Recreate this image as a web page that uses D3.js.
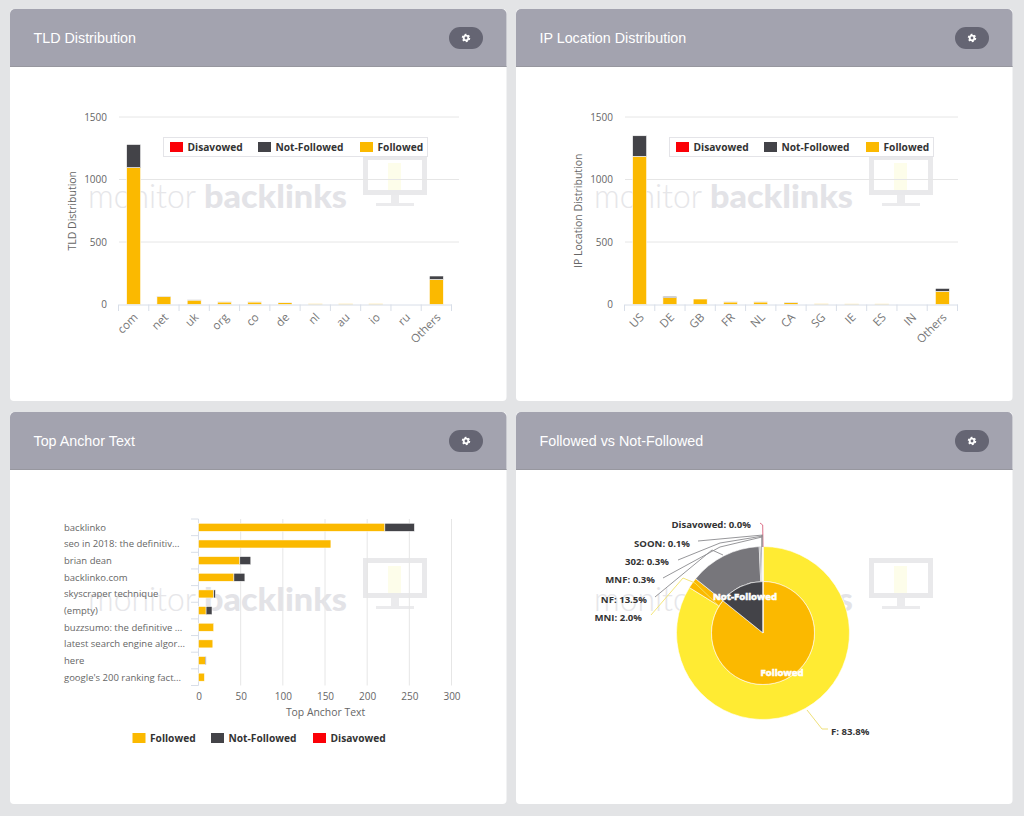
<!DOCTYPE html>
<html>
<head>
<meta charset="utf-8">
<script src="https://cdnjs.cloudflare.com/ajax/libs/d3/7.8.5/d3.min.js"></script>
<style>
  html, body { margin: 0; padding: 0; background: #e3e4e6; overflow: hidden; }
  svg { display: block; }
  text { font-family: "Open Sans", sans-serif; }
</style>
</head>
<body>
<svg id="chart" width="1024" height="816"></svg>
<script>
// panel titles
var panelTitles = ['TLD Distribution', 'IP Location Distribution', 'Top Anchor Text', 'Followed vs Not-Followed']

// TLD chart
var tldCategories = ['com', 'net', 'uk', 'org', 'co', 'de', 'nl', 'au', 'io', 'ru', 'Others']
var tldFollowed = [1095, 65, 35, 20, 20, 15, 6, 6, 6, 0, 200]
var tldNotFollowed = [185, 2, 2, 1, 1, 1, 0, 0, 0, 0, 28]
var tldDisavowed = [0, 0, 0, 0, 0, 0, 0, 0, 0, 0, 0]

// IP chart
var ipCategories = ['US', 'DE', 'GB', 'FR', 'NL', 'CA', 'SG', 'IE', 'ES', 'IN', 'Others']
var ipFollowed = [1185, 55, 45, 20, 20, 15, 6, 5, 5, 0, 105]
var ipNotFollowed = [165, 10, 2, 1, 1, 2, 0, 0, 0, 0, 24]
var ipDisavowed = [0, 0, 0, 0, 0, 0, 0, 0, 0, 0, 0]

var columnTicks = [0, 500, 1000, 1500]

// anchor text chart
var anchorCategories = ['backlinko', 'seo in 2018: the definitiv...', 'brian dean', 'backlinko.com', 'skyscraper technique', '(empty)', 'buzzsumo: the definitive ...', 'latest search engine algor...', 'here', "google's 200 ranking fact..."]
var anchorFollowed = [221, 157, 49, 42, 18, 9, 18, 17, 8, 7]
var anchorNotFollowed = [35, 0, 13, 13, 2, 7, 0, 0, 1, 0]
var anchorDisavowed = [0, 0, 0, 0, 0, 0, 0, 0, 0, 0]
var anchorTicks = [0, 50, 100, 150, 200, 250, 300]

// pie
var innerNames = ['Followed', 'Not-Followed', 'Disavowed']
var innerValues = [85.8, 14.2, 0]
var outerNames = ['F', 'MNI', 'NF', 'MNF', '302', 'SOON', 'Disavowed']
var outerValues = [83.8, 2.0, 13.5, 0.3, 0.3, 0.1, 0.0]

var colors = { 'Followed': '#fbb900', 'Not-Followed': '#434348', 'Disavowed': '#fb0007' }
var outerColors = ['#ffeb33', '#fbb900', '#77767b', '#88888c', '#9a9a9e', '#b5bcc4', '#e8c4c8']
var leaderColors = ['#ecdc6a', '#f3e36a', '#8b8b8f', '#8b8b8f', '#8b8b8f', '#8b8b8f', '#d9607a']

var svg = d3.select('#chart')

// card with header, gear button and the faded logo
function drawPanel(x, y, title) {
  var g = svg.append('g').attr('transform', 'translate(' + x + ',' + y + ')')
  var w = 496.5, h = 392, headerH = 58

  g.append('rect').attr('width', w).attr('height', h).attr('rx', 4).attr('fill', '#ffffff')
  g.append('path')
    .attr('d', 'M0,' + headerH + 'V5a5,5 0 0 1 5,-5H' + (w - 5) + 'a5,5 0 0 1 5,5V' + headerH + 'Z')
    .attr('fill', '#a3a3af')
  g.append('rect').attr('y', headerH - 1).attr('width', w).attr('height', 1).attr('fill', '#97979f')
  g.append('text').attr('x', 23.5).attr('y', 34).attr('fill', '#ffffff')
    .style('font-family', '"Liberation Sans", sans-serif').style('font-size', '14.3px')
    .text(title)

  // gear button
  g.append('rect').attr('x', 439).attr('y', 18).attr('width', 34).attr('height', 22).attr('rx', 11).attr('fill', '#656573')
  g.append('circle').attr('cx', 456).attr('cy', 29).attr('r', 2.3).attr('fill', 'none').attr('stroke', '#ffffff').attr('stroke-width', 1.8)
  g.append('circle').attr('cx', 456).attr('cy', 29).attr('r', 3.6).attr('fill', 'none').attr('stroke', '#ffffff').attr('stroke-width', 1.3).attr('stroke-dasharray', '1.9 1.87')

  // watermark
  g.append('text').attr('x', 78).attr('y', 199).attr('fill', '#e6e6e9')
    .style('font-family', 'Lato, sans-serif').style('font-weight', 300).style('font-size', '34px')
    .attr('textLength', 108).attr('lengthAdjust', 'spacingAndGlyphs').text('monitor')
  g.append('text').attr('x', 194).attr('y', 199).attr('fill', '#e3e3e7')
    .style('font-family', 'Lato, sans-serif').style('font-weight', 900).style('font-size', '33px')
    .attr('textLength', 143).attr('lengthAdjust', 'spacingAndGlyphs').text('backlinks')
  g.append('rect').attr('x', 355.5).attr('y', 148.5).attr('width', 59).attr('height', 35)
    .attr('fill', '#ffffff').attr('stroke', '#e9e9eb').attr('stroke-width', 5)
  g.append('rect').attr('x', 378).attr('y', 154).attr('width', 13).attr('height', 27).attr('fill', '#fdfdea')
  g.append('rect').attr('x', 381).attr('y', 186).attr('width', 8).attr('height', 8).attr('fill', '#ebebed')
  g.append('rect').attr('x', 366).attr('y', 194).attr('width', 38).attr('height', 3).attr('fill', '#ebebed')
  return g
}

function drawLegendItems(g, items, x0, y, gaps) {
  var x = x0
  items.forEach(function (name, i) {
    g.append('rect').attr('x', x).attr('y', y - 5).attr('width', 13).attr('height', 10)
      .attr('fill', colors[name])
    g.append('text').attr('x', x + 17.5).attr('y', y + 3.8).attr('fill', '#333333')
      .style('font-size', '10.2px').style('font-weight', 'bold').text(name)
    x += gaps[i]
  })
}

// vertical stacked columns with rotated labels
function drawColumns(g, cats, followed, notFollowed, disavowed, yTitle, gridEnd) {
  var x = d3.scaleBand().domain(cats).range([108.5, 441.5])
  var y = d3.scaleLinear().domain([0, 1500]).range([295.5, 108])

  g.selectAll('.grid').data(columnTicks.slice(1)).enter().append('line')
    .attr('x1', 109).attr('x2', gridEnd).attr('y1', function (d) { return y(d) }).attr('y2', function (d) { return y(d) })
    .attr('stroke', '#e6e6e6')

  var yAxis = d3.axisLeft(y).tickValues(columnTicks).tickSize(0).tickPadding(5).tickFormat(d3.format('d'))
  var ya = g.append('g').attr('transform', 'translate(102,0)').call(yAxis)
  ya.select('.domain').remove()
  ya.selectAll('text').attr('fill', '#666666').style('font-size', '10px').style('font-family', '"Open Sans", sans-serif')

  g.append('text').attr('transform', 'translate(66,' + y(750) + ') rotate(-90)')
    .attr('text-anchor', 'middle').attr('fill', '#666666').style('font-size', '10.5px').text(yTitle)

  var bars = g.append('g')
  cats.forEach(function (c, i) {
    var stack = [['Followed', 0, followed[i]], ['Not-Followed', followed[i], followed[i] + notFollowed[i]], ['Disavowed', followed[i] + notFollowed[i], followed[i] + notFollowed[i] + disavowed[i]]]
    stack.forEach(function (s) {
      if (s[2] <= s[1]) return
      bars.append('rect')
        .attr('x', x(c) + (x.bandwidth() - 14) / 2).attr('width', 14)
        .attr('y', y(s[2])).attr('height', y(s[1]) - y(s[2]))
        .attr('fill', colors[s[0]]).attr('stroke', '#ffffff').attr('stroke-width', 0.6)
    })
  })

  var xAxis = d3.axisBottom(x).tickSize(0).tickFormat('')
  var xa = g.append('g').attr('transform', 'translate(0,295.5)').call(xAxis)
  xa.select('.domain').attr('stroke', '#d8dee8')
  g.selectAll('.xtick').data(cats.concat(['end'])).enter().append('line')
    .attr('x1', function (d, i) { return 108.5 + i * x.step() }).attr('x2', function (d, i) { return 108.5 + i * x.step() })
    .attr('y1', 295.5).attr('y2', 302).attr('stroke', '#d8dee8')
  g.selectAll('.xlabel').data(cats).enter().append('text')
    .attr('transform', function (d) { return 'translate(' + (x(d) + x.bandwidth() / 2 + 5) + ',309) rotate(-45)' })
    .attr('text-anchor', 'end').attr('fill', '#777777').style('font-size', '11.5px').text(function (d) { return d })

  // legend box
  g.append('rect').attr('x', 153.5).attr('y', 128.5).attr('width', 264).attr('height', 19)
    .attr('fill', '#ffffff').attr('stroke', '#e4e4e8')
  drawLegendItems(g, ['Disavowed', 'Not-Followed', 'Followed'], 160, 138, [88, 102, 0])
}

// horizontal stacked bars
function drawBars(g) {
  var x = d3.scaleLinear().domain([0, 300]).range([188.5, 441.5])
  var y = d3.scaleBand().domain(anchorCategories).range([107, 273.5])

  g.selectAll('.grid').data(anchorTicks.slice(1)).enter().append('line')
    .attr('x1', function (d) { return x(d) }).attr('x2', function (d) { return x(d) })
    .attr('y1', 107).attr('y2', 273.5).attr('stroke', '#e6e6e6')

  g.append('line').attr('x1', 188.5).attr('x2', 188.5).attr('y1', 107).attr('y2', 273.5).attr('stroke', '#d8dee8')
  d3.range(anchorCategories.length + 1).forEach(function (i) {
    g.append('line').attr('x1', 181).attr('x2', 188.5).attr('y1', 107 + i * y.step()).attr('y2', 107 + i * y.step()).attr('stroke', '#d8dee8')
  })

  anchorCategories.forEach(function (c, i) {
    g.append('text').attr('x', 54).attr('y', y(c) + y.bandwidth() / 2 + 3.4).attr('fill', '#666666')
      .style('font-size', '9.5px').text(c)
    var stack = [['Followed', 0, anchorFollowed[i]], ['Not-Followed', anchorFollowed[i], anchorFollowed[i] + anchorNotFollowed[i]], ['Disavowed', anchorFollowed[i] + anchorNotFollowed[i], anchorFollowed[i] + anchorNotFollowed[i] + anchorDisavowed[i]]]
    stack.forEach(function (s) {
      if (s[2] <= s[1]) return
      g.append('rect')
        .attr('x', x(s[1])).attr('width', x(s[2]) - x(s[1]))
        .attr('y', y(c) + (y.bandwidth() - 8) / 2).attr('height', 8)
        .attr('fill', colors[s[0]]).attr('stroke', '#ffffff').attr('stroke-width', 0.5)
    })
  })

  var xAxis = d3.axisBottom(x).tickValues(anchorTicks).tickSize(0).tickPadding(7)
  var xa = g.append('g').attr('transform', 'translate(0,273.5)').call(xAxis)
  xa.select('.domain').remove()
  xa.selectAll('text').attr('fill', '#666666').style('font-size', '10px').style('font-family', '"Open Sans", sans-serif')

  g.append('text').attr('x', 315.5).attr('y', 304).attr('text-anchor', 'middle').attr('fill', '#666666')
    .style('font-size', '10.4px').text('Top Anchor Text')

  drawLegendItems(g, ['Followed', 'Not-Followed', 'Disavowed'], 122.5, 326, [78.5, 102, 0])
}

// nested pie with leader lines, label spots are relative to the pie centre
function drawPie(g) {
  var cx = 247, cy = 221
  var pie = d3.pie().sort(null)
  var c = g.append('g').attr('transform', 'translate(' + cx + ',' + cy + ')')
  var rInner = 51.5, rOuter = 86.5

  var innerArc = d3.arc().innerRadius(0).outerRadius(rInner)
  var outerArc = d3.arc().innerRadius(rInner).outerRadius(rOuter)
  var innerData = pie(innerValues)
  var outerData = pie(outerValues)

  c.selectAll('.outer').data(outerData).enter().append('path')
    .attr('d', outerArc).attr('fill', function (d, i) { return outerColors[i] })
    .attr('stroke', '#ffffff').attr('stroke-width', 0.6)
  c.selectAll('.inner').data(innerData).enter().append('path')
    .attr('d', innerArc).attr('fill', function (d, i) { return colors[innerNames[i]] })
    .attr('stroke', '#ffffff').attr('stroke-width', 0.6)

  var leaderPaths = [
    [[44, 77], [59, 96], [65, 96]],
    [[-43, -26], [-68, -50], [-80, -55], [-112, -18]],
    [[-40, -78], [-51, -83], [-108, -36]],
    [[-1, -96], [-43, -86], [-100, -55]],
    [[0, -97], [-43, -90], [-85, -73]],
    [[0, -98], [-65, -92]],
    [[0, -86], [-0.3, -108], [-3, -110]]
  ]
  var labelSpots = [[68, 101.5], [-121, -12.5], [-116, -30], [-108, -50], [-94, -68], [-73, -86.5], [-12, -105]]

  outerNames.forEach(function (name, i) {
    c.append('path').attr('d', d3.line()(leaderPaths[i])).attr('fill', 'none')
      .attr('stroke', leaderColors[i]).attr('stroke-width', 0.9)
    c.append('text').attr('x', labelSpots[i][0]).attr('y', labelSpots[i][1])
      .attr('text-anchor', i == 0 ? 'start' : 'end').attr('fill', '#333333')
      .style('font-size', '9.6px').style('font-weight', 'bold')
      .text(name + ': ' + outerValues[i].toFixed(1) + '%')
  })

  // the stem the small slices share
  c.append('line').attr('x1', -1).attr('x2', -1).attr('y1', -86).attr('y2', -98).attr('stroke', '#8b8b8f').attr('stroke-width', 1.4)

  c.append('text').attr('x', -18).attr('y', -33).attr('text-anchor', 'middle').attr('fill', '#ffffff')
    .style('font-size', '9.6px').style('font-weight', 'bold').style('stroke', '#ffffff').style('stroke-width', 0.6).text('Not-Followed')
  c.append('text').attr('x', 19).attr('y', 43).attr('text-anchor', 'middle').attr('fill', '#ffffff')
    .style('font-size', '9.6px').style('font-weight', 'bold').style('stroke', '#ffffff').style('stroke-width', 0.6).text('Followed')
}

var p1 = drawPanel(10, 9, panelTitles[0])
var p2 = drawPanel(516, 9, panelTitles[1])
var p3 = drawPanel(10, 412, panelTitles[2])
var p4 = drawPanel(516, 412, panelTitles[3])

drawColumns(p1, tldCategories, tldFollowed, tldNotFollowed, tldDisavowed, 'TLD Distribution', 449)
drawColumns(p2, ipCategories, ipFollowed, ipNotFollowed, ipDisavowed, 'IP Location Distribution', 442)
drawBars(p3)
drawPie(p4)
</script>
</body>
</html>
